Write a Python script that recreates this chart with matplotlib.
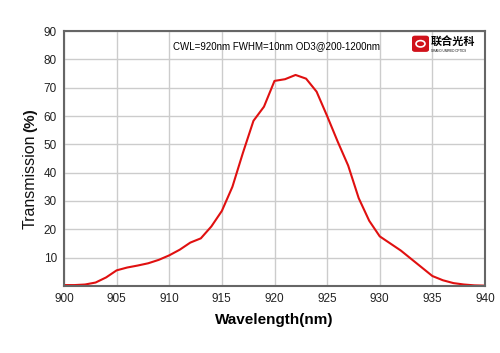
import numpy as np
import matplotlib
matplotlib.use('Agg')
import matplotlib.pyplot as plt
from matplotlib.patches import FancyBboxPatch, Circle

plt.rcParams['font.family'] = ['Liberation Sans', 'Noto Sans CJK SC', 'DejaVu Sans']

wavelength = list(range(900, 941))
transmission = [0.3, 0.3, 0.5, 1.2, 3.0, 5.5, 6.5, 7.2, 8.0, 9.2,
                10.8, 12.8, 15.3, 16.8, 21.0, 26.5, 35.0, 47.0, 58.3, 63.3,
                72.4, 73.0, 74.5, 73.2, 68.6, 60.0, 51.0, 42.5, 31.0, 23.0,
                17.5, 15.0, 12.5, 9.5, 6.5, 3.5, 2.0, 1.0, 0.5, 0.2, 0.1]
xticks = list(range(900, 941, 5))
yticks = list(range(10, 91, 10))

fig = plt.figure(figsize=(5, 3.53), dpi=100)
ax = fig.add_axes([0.128, 0.19, 0.842, 0.722])

ax.plot(wavelength, transmission, color='#e01010', lw=1.5)

ax.set_xlim(900, 940)
ax.set_ylim(0, 90)
ax.set_xticks(xticks)
ax.set_yticks(yticks)
ax.tick_params(labelsize=8.5, length=0, pad=5, colors='#222222')
ax.grid(color='#cccccc', lw=1)
ax.set_axisbelow(True)
for s in ax.spines.values():
    s.set_color('#666666')
    s.set_linewidth(1.5)

ax.set_xlabel('Wavelength(nm)', fontsize=11, fontweight='bold', labelpad=6)

# y label: plain word plus bold unit
ax.text(-0.081, 0.41, 'Transmission', transform=ax.transAxes, rotation=90,
        ha='center', va='center', fontsize=11.5, color='#111111')
ax.text(-0.081, 0.65, '(%)', transform=ax.transAxes, rotation=90,
        ha='center', va='center', fontsize=11, fontweight='bold', color='#111111')

ax.text(0.505, 0.94, 'CWL=920nm FWHM=10nm OD3@200-1200nm', transform=ax.transAxes,
        ha='center', va='center', fontsize=7)

# logo
fig.patches.append(FancyBboxPatch((0.826, 0.855), 0.03, 0.042, boxstyle='round,pad=0.002,rounding_size=0.006',
                                  transform=fig.transFigure, facecolor='#d0121b', edgecolor='none'))
fig.patches.append(Circle((0.841, 0.876), 0.009, transform=fig.transFigure,
                          facecolor='none', edgecolor='white', lw=1.2))
fig.text(0.862, 0.882, '联合光科', fontsize=8, fontweight='bold', va='center', ha='left',
         family=['Noto Sans CJK SC', 'DejaVu Sans'])
fig.text(0.862, 0.856, 'GRAND UNIFIED OPTICS', fontsize=2.2, va='center', ha='left')

fig.savefig('out.png', dpi=100)
